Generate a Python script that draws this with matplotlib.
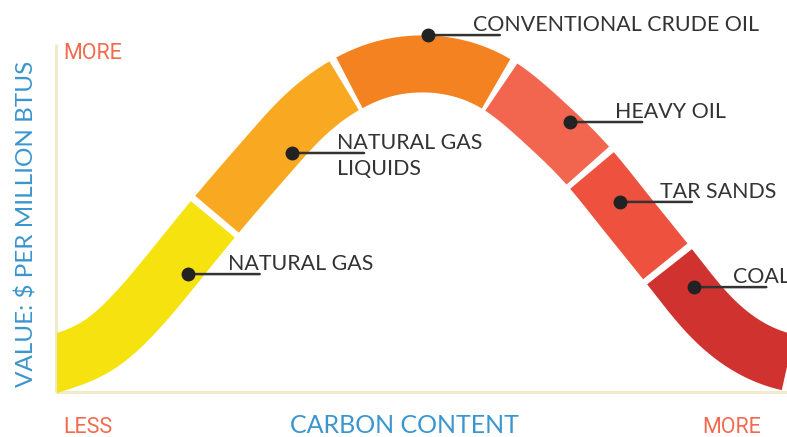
import matplotlib
matplotlib.use("Agg")
import matplotlib.pyplot as plt
import numpy as np

# centre line of the band (carbon content, value)
curve_x = [-5.1, 0.0, 5.9, 11.2, 15.8, 21.6, 28.9, 33.3, 39.5, 43.8, 50.4,
           55.3, 60.8, 67.0, 72.5, 78.2, 83.3, 89.2, 94.3, 100.0, 103.2]
curve_y = [4.8, 8.2, 13.6, 23.6, 34.9, 49.7, 67.3, 77.3, 87.2, 91.2, 93.2,
           91.8, 86.7, 76.1, 64.8, 50.3, 37.2, 22.2, 13.4, 8.5, 7.4]

# fuels and where each one ends along the carbon axis
fuels = ["NATURAL GAS", "NATURAL GAS\nLIQUIDS", "CONVENTIONAL CRUDE OIL",
         "HEAVY OIL", "TAR SANDS", "COAL"]
fuel_ends = [21.6, 39.7, 60.5, 73.0, 83.6, 110.0]
fuel_colors = ["#F5E20E", "#F9A921", "#F58220", "#F26650", "#EE523F", "#D03230"]
# marker dot of each label (carbon content, value)
dot_x = [17.9, 32.2, 50.8, 70.3, 77.1, 87.3]
dot_y = [33.5, 67.9, 101.4, 76.7, 54.0, 29.8]

W, H, DPI = 787, 437, 100
fig = plt.figure(figsize=(W / DPI, H / DPI), dpi=DPI)
fig.patch.set_facecolor("white")
# axes: x 0..100 from px 57 to 787, value 0 at px 392, 100 at px 40
ax = fig.add_axes([57 / W, 0, 730 / W, 1])
ax.set_xlim(0, 100)
ax.set_ylim(-45 / 3.52, 392 / 3.52)
ax.axis("off")

label_font = ["Lato", "DejaVu Sans"]
narrow_font = ["Liberation Sans Narrow", "Roboto", "DejaVu Sans"]
dark = "#333333"
blue = "#3A96CF"
salmon = "#F26B50"
axis_col = "#EFEAC8"


def spline(xs, ys, n=1500):
    # natural cubic spline y(x) through the read points, only to draw smoothly
    xs, ys = np.asarray(xs, float), np.asarray(ys, float)
    k = len(xs)
    h = np.diff(xs)
    A = np.zeros((k, k))
    r = np.zeros(k)
    A[0, 0] = A[-1, -1] = 1
    for i in range(1, k - 1):
        A[i, i - 1] = h[i - 1]
        A[i, i] = 2 * (h[i - 1] + h[i])
        A[i, i + 1] = h[i]
        r[i] = 6 * ((ys[i + 1] - ys[i]) / h[i] - (ys[i] - ys[i - 1]) / h[i - 1])
    M = np.linalg.solve(A, r)
    xx = np.linspace(xs[0], xs[-1], n)
    j = np.clip(np.searchsorted(xs, xx) - 1, 0, k - 2)
    a, b = xs[j + 1] - xx, xx - xs[j]
    yy = (M[j] * a ** 3 + M[j + 1] * b ** 3) / (6 * h[j]) \
        + (ys[j] / h[j] - M[j] * h[j] / 6) * a + (ys[j + 1] / h[j] - M[j + 1] * h[j] / 6) * b
    return xx, yy


disp = ax.transData.transform(np.column_stack([curve_x, curve_y]))
dx, dy = spline(disp[:, 0], disp[:, 1])
dense = np.column_stack([dx, dy])
dense_data = ax.transData.inverted().transform(dense)
arc = np.concatenate([[0], np.cumsum(np.hypot(*np.diff(dense, axis=0).T))])

gap = 6.0  # px
band_w = 57 * 72 / DPI
start = -1e9
for end, col in zip(fuel_ends, fuel_colors):
    if end < 105:
        i = np.argmin(np.abs(dense_data[:, 0] - end))
        s_end = arc[i]
    else:
        s_end = 1e9
    m = (arc >= start + gap / 2) & (arc <= s_end - gap / 2)
    ax.plot(dense_data[m, 0], dense_data[m, 1], color=col, lw=band_w,
            solid_capstyle="butt", solid_joinstyle="round", zorder=2)
    start = s_end

# axis lines
ax.plot([-0.2, -0.2], [0, 99], color=axis_col, lw=2.2, clip_on=False, zorder=1,
        solid_capstyle="butt")
ax.plot([-0.2, 100], [0, 0], color=axis_col, lw=2.2, clip_on=False, zorder=1,
        solid_capstyle="butt")

# labels: dot, leader line, text (offsets in pixels from the dot)
text_dx = [40, 45, 45, 45, 40, 39]
for name, x, y, tdx in zip(fuels, dot_x, dot_y, text_dx):
    ax.annotate("", xy=(x, y), xytext=(72, 0), textcoords="offset pixels",
                arrowprops=dict(arrowstyle="-", color=dark, lw=1.8,
                                shrinkA=0, shrinkB=0), zorder=4)
    ax.plot([x], [y], "o", color="#222222", ms=9, zorder=5, clip_on=False)
    for k, line in enumerate(name.split("\n")):
        ax.annotate(line, xy=(x, y), xytext=(tdx, 4 - 26 * k),
                    textcoords="offset pixels", ha="left", va="baseline",
                    fontsize=15.4, family=label_font, color=dark, zorder=6)

# axis words
fig.text(63 / W, 1 - 59 / H, "MORE", family=narrow_font, fontsize=15.5,
         color=salmon, ha="left", va="baseline")
fig.text(63 / W, 1 - 433 / H, "LESS", family=narrow_font, fontsize=15.5,
         color=salmon, ha="left", va="baseline")
fig.text(761 / W, 1 - 433 / H, "MORE", family=narrow_font, fontsize=15.5,
         color=salmon, ha="right", va="baseline")
fig.text(404 / W, 1 - 433 / H, "CARBON CONTENT", family=label_font, fontsize=18,
         color=blue, ha="center", va="baseline")
fig.text(27 / W, 1 - 224 / H, "VALUE: $ PER MILLION BTUS", family=label_font,
         fontsize=17.5, color=blue, ha="center", va="center", rotation=90,
         rotation_mode="anchor")

fig.savefig("out.png", dpi=DPI, facecolor="white")
